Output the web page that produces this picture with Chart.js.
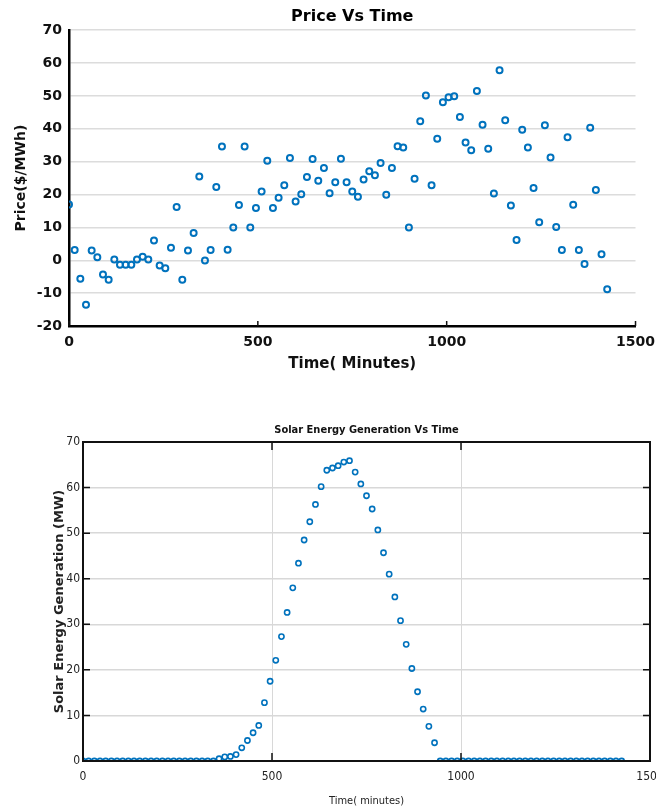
<!DOCTYPE html>
<html>
<head>
<meta charset="utf-8">
<script src="https://cdn.jsdelivr.net/npm/chart.js@4.4.1/dist/chart.umd.min.js"></script>
<style>
  html, body { margin: 0; padding: 0; background: #fff; overflow: hidden; }
  #wrap { position: relative; width: 656px; height: 812px; overflow: hidden; }
  #priceChart { position: absolute; left: 0; top: 0; }
  #solarChart { position: absolute; left: 0; top: 395px; }
</style>
</head>
<body>
<div id="wrap">
  <canvas id="priceChart" width="663" height="385"></canvas>
  <canvas id="solarChart" width="680" height="417"></canvas>
</div>
<script>
// sample times (minutes), one every 15 min
const minutes = [
  0, 15, 30, 45, 60, 75, 90, 105, 120, 135, 150, 165,
  180, 195, 210, 225, 240, 255, 270, 285, 300, 315, 330, 345,
  360, 375, 390, 405, 420, 435, 450, 465, 480, 495, 510, 525,
  540, 555, 570, 585, 600, 615, 630, 645, 660, 675, 690, 705,
  720, 735, 750, 765, 780, 795, 810, 825, 840, 855, 870, 885,
  900, 915, 930, 945, 960, 975, 990, 1005, 1020, 1035, 1050, 1065,
  1080, 1095, 1110, 1125, 1140, 1155, 1170, 1185, 1200, 1215, 1230, 1245,
  1260, 1275, 1290, 1305, 1320, 1335, 1350, 1365, 1380, 1395, 1410, 1425
];

// price ($/MWh)
const price = [
  17, 3.1, -5.6, -13.5, 3.0, 0.9, -4.3, -5.9, 0.2, -1.4, -1.4, -1.4,
  0.2, 1.1, 0.2, 6.0, -1.6, -2.4, 3.8, 16.2, -5.9, 3.0, 8.3, 25.5,
  -0.1, 3.1, 22.3, 34.6, 3.2, 10.0, 16.8, 34.6, 10.0, 15.9, 20.9, 30.3,
  15.9, 19.0, 22.8, 31.1, 17.9, 20.1, 25.3, 30.8, 24.2, 28.1, 20.4, 23.7,
  30.9, 23.7, 20.9, 19.3, 24.6, 27.1, 25.9, 29.6, 19.9, 28.1, 34.7, 34.3,
  10.0, 24.8, 42.3, 50.1, 22.8, 37.0, 48.1, 49.6, 49.9, 43.6, 35.8, 33.5,
  51.5, 41.2, 33.9, 20.3, 57.8, 42.6, 16.7, 6.2, 39.7, 34.3, 22.0, 11.6,
  41.1, 31.3, 10.1, 3.1, 37.4, 16.9, 3.1, -1.1, 40.3, 21.4, 1.8, -8.8
];

// solar generation (MW)
const solar = [
  0, 0, 0, 0, 0, 0, 0, 0, 0, 0, 0, 0,
  0, 0, 0, 0, 0, 0, 0, 0, 0, 0, 0, 0,
  0.5, 0.9, 1.0, 1.4, 2.9, 4.5, 6.2, 7.8, 12.8, 17.5, 22.1, 27.3,
  32.6, 38.0, 43.4, 48.5, 52.5, 56.3, 60.2, 63.8, 64.3, 64.8, 65.6, 65.9,
  63.4, 60.8, 58.2, 55.3, 50.7, 45.7, 41.0, 36.0, 30.8, 25.6, 20.3, 15.2,
  11.4, 7.6, 4.0, 0, 0, 0, 0, 0, 0, 0, 0, 0,
  0, 0, 0, 0, 0, 0, 0, 0, 0, 0, 0, 0,
  0, 0, 0, 0, 0, 0, 0, 0, 0, 0, 0, 0
];

const timeTicks = [0, 500, 1000, 1500];
const priceTicks = [-20, -10, 0, 10, 20, 30, 40, 50, 60, 70];
const solarTicks = [0, 10, 20, 30, 40, 50, 60, 70];

const blue = '#0072BD';
const narrow = "'Liberation Sans Narrow', 'DejaVu Sans Condensed', 'Liberation Sans', sans-serif";
const bold = "'DejaVu Sans', sans-serif";

function toPoints(xs, ys) {
  return xs.map((x, i) => ({ x: x, y: ys[i] }));
}

const plain = v => String(v);

// matlab style ticks pointing into the plot
function innerTicks(id, len, sides) {
  return {
    id: id,
    afterDatasetsDraw(chart) {
      const { ctx, chartArea: a, scales } = chart;
      ctx.save();
      ctx.strokeStyle = '#111';
      ctx.lineWidth = 1.5;
      ctx.beginPath();
      scales.x.ticks.forEach(t => {
        const px = scales.x.getPixelForValue(t.value);
        ctx.moveTo(px, a.bottom);
        ctx.lineTo(px, a.bottom - len);
        if (sides) {
          ctx.moveTo(px, a.top);
          ctx.lineTo(px, a.top + len);
        }
      });
      if (sides) {
        scales.y.ticks.forEach(t => {
          const py = scales.y.getPixelForValue(t.value);
          ctx.moveTo(a.left, py);
          ctx.lineTo(a.left + len - 1, py);
          ctx.moveTo(a.right, py);
          ctx.lineTo(a.right - len + 1, py);
        });
      }
      ctx.stroke();
      if (sides) {
        ctx.lineWidth = 2;
        ctx.strokeRect(a.left, a.top, a.width, a.height);
      }
      ctx.restore();
    }
  };
}

new Chart(document.getElementById('priceChart'), {
  type: 'scatter',
  data: {
    datasets: [{
      data: toPoints(minutes, price),
      borderColor: blue,
      backgroundColor: 'rgba(0,0,0,0)',
      borderWidth: 2,
      pointRadius: 3,
      showLine: false
    }]
  },
  options: {
    responsive: false,
    animation: false,
    devicePixelRatio: 1,
    layout: { padding: { left: 0, right: 0, top: 0, bottom: 0 } },
    plugins: {
      legend: { display: false },
      tooltip: { enabled: false },
      title: {
        display: true,
        text: 'Price Vs Time',
        fullSize: false,
        color: '#000',
        font: { family: bold, size: 16, weight: 'bold' },
        padding: { top: 7.5, bottom: 3.5 }
      }
    },
    scales: {
      x: {
        type: 'linear',
        min: 0,
        max: 1500,
        afterBuildTicks: s => { s.ticks = timeTicks.map(v => ({ value: v })); },
        afterFit: s => { s.height = 59; },
        grid: { display: false, drawTicks: false },
        border: { color: '#000', width: 2.5 },
        ticks: {
          color: '#111', padding: 8, maxRotation: 0, autoSkip: false, callback: plain,
          font: { family: bold, size: 14, weight: 'bold' }
        },
        title: {
          display: true,
          text: 'Time( Minutes)',
          color: '#111',
          font: { family: bold, size: 15, weight: 'bold' },
          padding: { top: 0, bottom: 12 }
        }
      },
      y: {
        min: -20,
        max: 70,
        afterBuildTicks: s => { s.ticks = priceTicks.map(v => ({ value: v })); },
        afterFit: s => { s.width = 69; },
        grid: { color: '#dcdcdc', lineWidth: 1.5, drawTicks: false },
        border: { color: '#000', width: 2.5 },
        ticks: {
          color: '#111', padding: 7, autoSkip: false, callback: plain,
          font: { family: bold, size: 14, weight: 'bold' }
        },
        title: {
          display: true,
          text: 'Price($/MWh)',
          color: '#111',
          font: { family: bold, size: 14, weight: 'bold' },
          padding: { top: 13, bottom: 0 }
        }
      }
    }
  },
  plugins: [innerTicks('priceTicks', 5, false)]
});

new Chart(document.getElementById('solarChart'), {
  type: 'scatter',
  data: {
    datasets: [{
      data: toPoints(minutes, solar),
      borderColor: blue,
      backgroundColor: 'rgba(0,0,0,0)',
      borderWidth: 1.6,
      pointRadius: 2.6,
      showLine: false
    }]
  },
  options: {
    responsive: false,
    animation: false,
    devicePixelRatio: 1,
    layout: { padding: { left: 0, right: 30, top: 0, bottom: 0 } },
    plugins: {
      legend: { display: false },
      tooltip: { enabled: false },
      title: {
        display: true,
        text: 'Solar Energy Generation Vs Time',
        fullSize: false,
        color: '#111',
        font: { family: narrow, size: 11, weight: 'bold' },
        padding: { top: 28.4, bottom: 5.4 }
      }
    },
    scales: {
      x: {
        type: 'linear',
        min: 0,
        max: 1500,
        afterBuildTicks: s => { s.ticks = timeTicks.map(v => ({ value: v })); },
        afterFit: s => { s.height = 51; },
        grid: { color: '#d8d8d8', lineWidth: 1, drawTicks: false },
        border: { color: '#222', width: 2 },
        ticks: {
          color: '#222', padding: 8.5, maxRotation: 0, autoSkip: false, callback: plain,
          font: { family: narrow, size: 12 }
        },
        title: {
          display: true,
          text: 'Time( minutes)',
          color: '#222',
          font: { family: narrow, size: 11 },
          padding: { top: 0, bottom: 4.4 }
        }
      },
      y: {
        min: 0,
        max: 70,
        afterBuildTicks: s => { s.ticks = solarTicks.map(v => ({ value: v })); },
        afterFit: s => { s.width = 83; },
        grid: { color: '#d8d8d8', lineWidth: 1.5, drawTicks: false },
        border: { color: '#222', width: 2 },
        ticks: {
          color: '#222', padding: 3, autoSkip: false, callback: plain,
          font: { family: narrow, size: 12 }
        },
        title: {
          display: true,
          text: 'Solar Energy Generation (MW)',
          color: '#222',
          font: { family: bold, size: 13, weight: 'bold' },
          padding: { top: 52, bottom: 0 }
        }
      }
    }
  },
  plugins: [innerTicks('solarTicks', 8, true)]
});
</script>
</body>
</html>
